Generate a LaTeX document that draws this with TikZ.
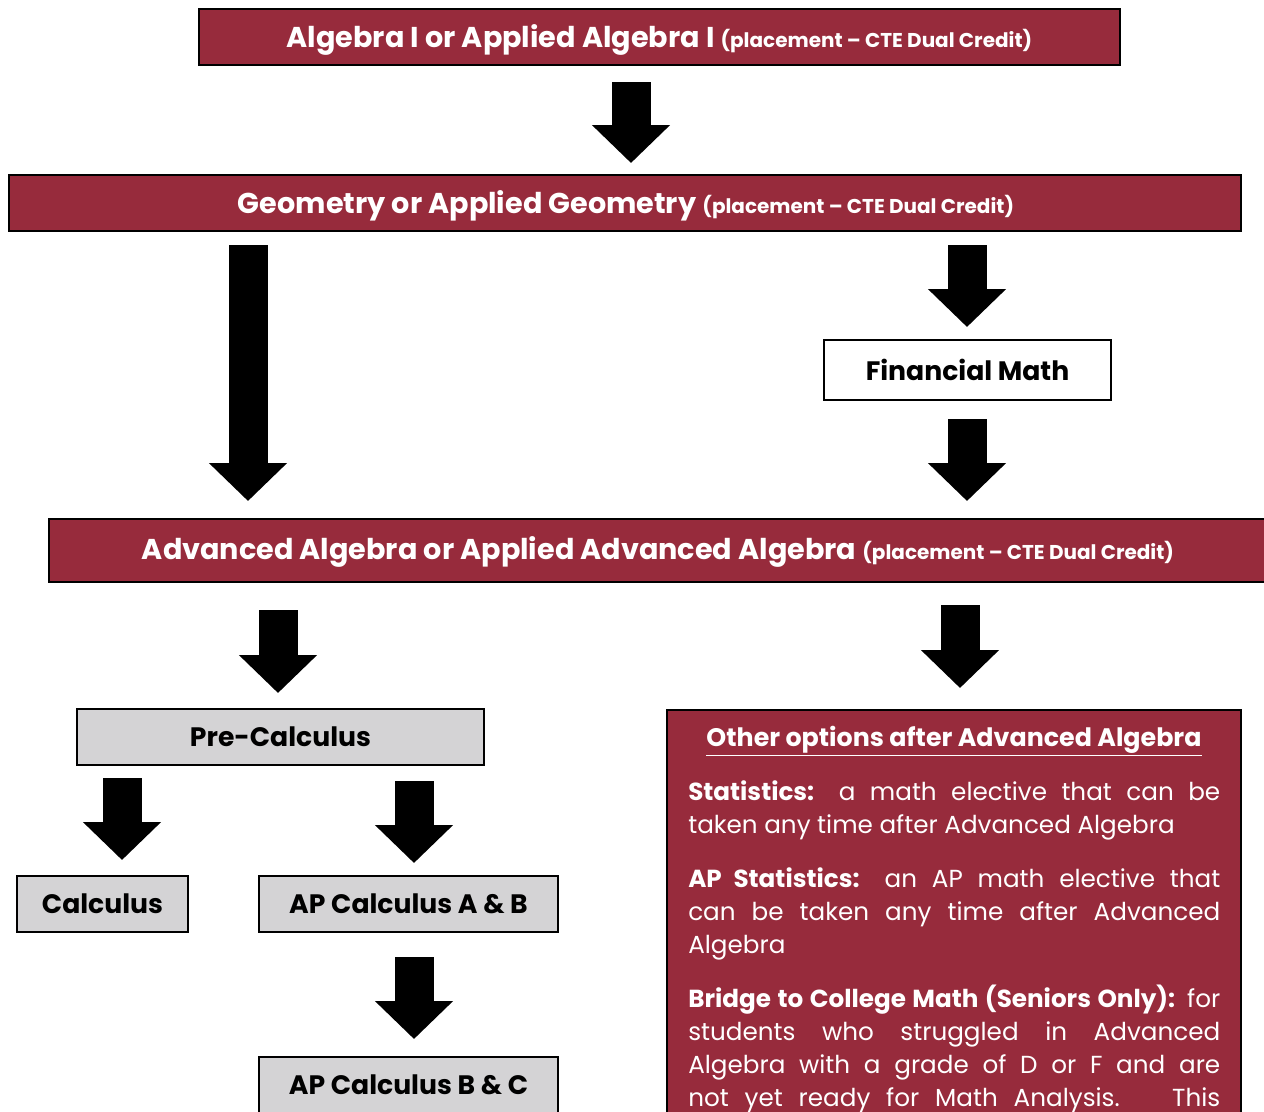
\documentclass[tikz,border=0pt]{standalone}
\usepackage{fontspec}
\setmainfont{Poppins}
\usetikzlibrary{arrows.meta}
\definecolor{maroon}{HTML}{972B3C}
\definecolor{boxgray}{HTML}{D4D3D5}
\newcommand\smalltxt[1]{{\fontsize{15}{17}\selectfont #1}}
\newcommand\jline[1]{\makebox[399pt][s]{#1}}
\begin{document}
\begin{tikzpicture}[x=0.75pt,y=-0.75pt,
  box/.style={draw=black, line width=1.5pt, inner sep=0pt, align=center},
  redbox/.style={box, fill=maroon, text=white},
  graybox/.style={box, fill=boxgray, text=black},
  whitebox/.style={box, fill=white, text=black},
  sz/.style 2 args={minimum width={#1*0.75pt}, minimum height={#2*0.75pt}},
  big/.style={font=\fontsize{20}{24}\selectfont\bfseries},
  bigger/.style={font=\fontsize{21.5}{25}\selectfont\bfseries},
  blockarr/.style={line width=29.25pt, -{Triangle[width=57pt,length=28.5pt]}}
]
\useasboundingbox (0,0) rectangle (1264,1111);
\clip (0,0) rectangle (1264,1111);
\fill[white] (0,0) rectangle (1264,1111);

% boxes
\node[redbox, sz={921}{56}] (alg1) at (659.5,37) {};
\node[bigger, text=white] (alg1t) at (659.5,39.5) {Algebra I or Applied Algebra I \smalltxt{(placement -- CTE Dual Credit)}};
\node[redbox, sz={1232}{56}] (geo) at (625,203) {};
\node[bigger, text=white] (geot) at (626,205.5) {Geometry or Applied Geometry \smalltxt{(placement -- CTE Dual Credit)}};
\node[whitebox, sz={287}{60}, big] (fin) at (967.5,370) {Financial Math};
\node[redbox, sz={1218}{63}] (adv) at (658,550.5) {};
\node[bigger, text=white] (advt) at (658,551.5) {Advanced Algebra or Applied Advanced Algebra \smalltxt{(placement -- CTE Dual Credit)}};
\node[graybox, sz={407}{56}, big] (pre) at (280.5,737) {Pre-Calculus};
\node[graybox, sz={171}{56}, big] (calc) at (102.5,904) {Calculus};
\node[graybox, sz={299}{56}, big] (apab) at (408.5,904) {AP Calculus A \& B};
\node[graybox, sz={299}{56}, big] (apbc) at (408.5,1085) {AP Calculus B \& C};
\node[redbox, sz={574}{440}, anchor=north] (other) at (954,709) {};

% text of the options box
\node[text=white, anchor=north, font=\fontsize{19}{23}\selectfont\bfseries] (otitle) at (954,721) {\underline{Other options after Advanced Algebra}};
\node[text=white, anchor=north west, inner sep=0pt, align=left,
      font=\fontsize{18.5}{24.75}\selectfont] (otext) at (688,780) {%
\jline{\textbf{Statistics:} a math elective that can be}\\
taken any time after Advanced Algebra\\[15.75pt]
\jline{\textbf{AP Statistics:} an AP math elective that}\\
\jline{can be taken any time after Advanced}\\
Algebra\\[15.75pt]
\jline{\textbf{Bridge to College Math (Seniors Only):} for}\\
\jline{students who struggled in Advanced}\\
\jline{Algebra with a grade of D or F and are}\\
\jline{not yet ready for Math Analysis. \ This}};

% connectors
\coordinate (a1s) at (631,82);   \coordinate (a1e) at (631,163);
\coordinate (a2s) at (248,245);  \coordinate (a2e) at (248,501);
\coordinate (a3s) at (967,245);  \coordinate (a3e) at (967,327);
\coordinate (a4s) at (967,419);  \coordinate (a4e) at (967,501);
\coordinate (a5s) at (278,610);  \coordinate (a5e) at (278,693);
\coordinate (a6s) at (960,605);  \coordinate (a6e) at (960,688);
\coordinate (a7s) at (122,778);  \coordinate (a7e) at (122,860);
\coordinate (a8s) at (414,781);  \coordinate (a8e) at (414,863);
\coordinate (a9s) at (414,957);  \coordinate (a9e) at (414,1039);
\foreach \i in {1,...,9} \draw[blockarr] (a\i s) -- (a\i e);
\end{tikzpicture}
\end{document}
